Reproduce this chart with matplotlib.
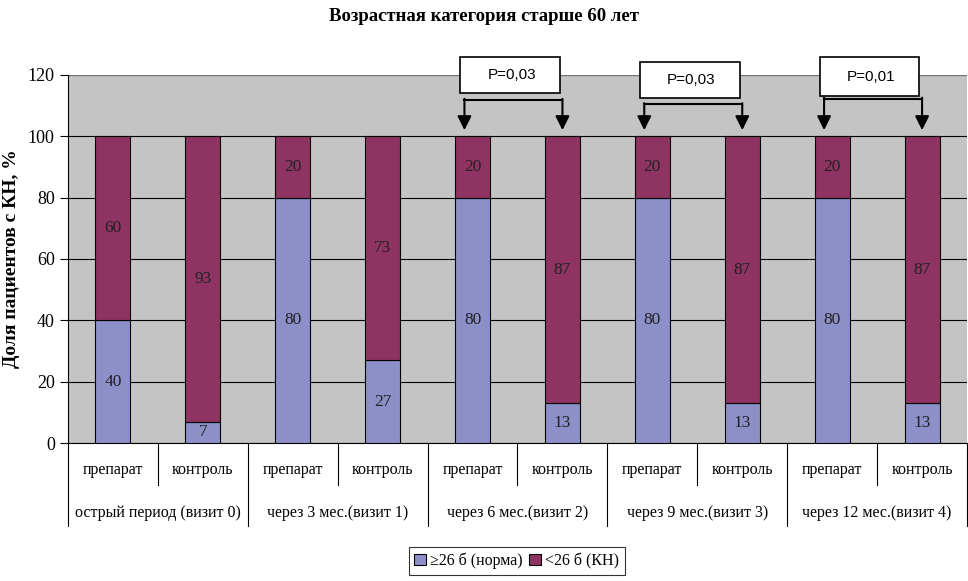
import matplotlib
matplotlib.use("Agg")
import matplotlib.pyplot as plt
from matplotlib.patches import Patch, Rectangle
import numpy as np

plt.rcParams['font.family'] = ['Liberation Serif', 'DejaVu Serif']

# data
groups = ['острый период (визит 0)', 'через 3 мес.(визит 1)', 'через 6 мес.(визит 2)',
          'через 9 мес.(визит 3)', 'через 12 мес.(визит 4)']
subs = ['препарат', 'контроль']
norm = [40, 7, 80, 27, 80, 13, 80, 13, 80, 13]
kn = [60, 93, 20, 73, 20, 87, 20, 87, 20, 87]
series_names = ['≥26 б (норма)', '<26 б (КН)']
p_values = ['P=0,03', 'P=0,03', 'P=0,01']
p_pairs = [(4, 5), (6, 7), (8, 9)]

blue = '#8C8FC8'
purple = '#8E3362'

fig = plt.figure(figsize=(9.68, 5.81), dpi=100)
ax = fig.add_axes([0.0702, 0.2375, 0.9288, 0.6335])
ax.set_facecolor('#C4C4C4')

x = np.arange(len(norm))
ax.bar(x, norm, width=0.39, color=blue, edgecolor='black', linewidth=0.8, zorder=3)
ax.bar(x, kn, width=0.39, bottom=norm, color=purple, edgecolor='black', linewidth=0.8, zorder=3)

for i in x:
    ax.text(i, norm[i] / 2, str(norm[i]), ha='center', va='center', fontsize=12.5,
            color='#222222', zorder=4)
    ax.text(i, norm[i] + kn[i] / 2, str(kn[i]), ha='center', va='center', fontsize=12.5,
            color='#222222', zorder=4)

ax.set_xlim(-0.5, 9.5)
ax.set_ylim(0, 120)
ax.set_yticks(range(0, 121, 20))
ax.tick_params(axis='y', labelsize=13, length=6, width=0.8, direction='out')
ax.set_xticks([])
ax.grid(axis='y', color='black', linewidth=0.8, zorder=1)
for s in ['top', 'right']:
    ax.spines[s].set_visible(False)
ax.spines['left'].set_linewidth(0.8)
ax.spines['bottom'].set_linewidth(0.8)
ax.axhline(120, color='#888888', linewidth=1.2, zorder=2)

ax.set_ylabel('Доля пациентов с КН, %', fontsize=14, fontweight='bold')
ax.yaxis.set_label_coords(-0.053, 0.5)
fig.text(0.5, 0.972, 'Возрастная категория старше 60 лет', ha='center', va='center',
         fontsize=13.5, fontweight='bold')

# category labels below the axis
trans = ax.get_xaxis_transform()
for i in x:
    ax.text(i, -0.073, subs[i % 2], transform=trans, ha='center', va='center', fontsize=11.5)
for g, name in enumerate(groups):
    ax.text(2 * g + 0.5, -0.19, name, transform=trans, ha='center', va='center', fontsize=11.5)
for k in range(11):
    xb = k - 0.5
    bottom = -0.225 if k % 2 == 0 else -0.114
    ax.plot([xb, xb], [0, bottom], transform=trans, color='black', linewidth=0.8,
            clip_on=False)

# significance boxes
box_y = [(114.0, 125.9), (112.5, 124.2), (113.0, 125.9)]
line_y = [111.8, 110.4, 112.2]
for (a, b), txt, (y0, y1), ly in zip(p_pairs, p_values, box_y, line_y):
    xa, xb = a - 0.09, b + 0.0
    ax.add_patch(Rectangle((xa - 0.05, y0), (xb - xa) + 0.02, y1 - y0, facecolor='white',
                           edgecolor='black', linewidth=1.2, clip_on=False, zorder=5))
    ax.text((xa + xb) / 2 - 0.02, (y0 + y1) / 2, txt, ha='center', va='center',
            fontsize=11, family=['Liberation Sans', 'DejaVu Sans'], zorder=6)
    ax.plot([xa, xb], [ly, ly], color='black', linewidth=1.5, clip_on=False, zorder=5)
    for xx in (xa, xb):
        ax.annotate('', xy=(xx, 102), xytext=(xx, ly + 0.4),
                    arrowprops=dict(arrowstyle='-|>', color='black', lw=1.5,
                                    mutation_scale=21, shrinkA=0, shrinkB=0),
                    annotation_clip=False, zorder=5)

handles = [Patch(facecolor=blue, edgecolor='black', linewidth=0.8),
           Patch(facecolor=purple, edgecolor='black', linewidth=0.8)]
leg = fig.legend(handles, series_names, loc='center', bbox_to_anchor=(0.534, 0.034),
                 ncol=2, fontsize=11.5, frameon=True, fancybox=False, edgecolor='black',
                 handlelength=0.7, handleheight=0.7, handletextpad=0.3, columnspacing=0.4,
                 borderpad=0.35)
leg.get_frame().set_linewidth(0.8)

fig.savefig('out.png', dpi=100)
